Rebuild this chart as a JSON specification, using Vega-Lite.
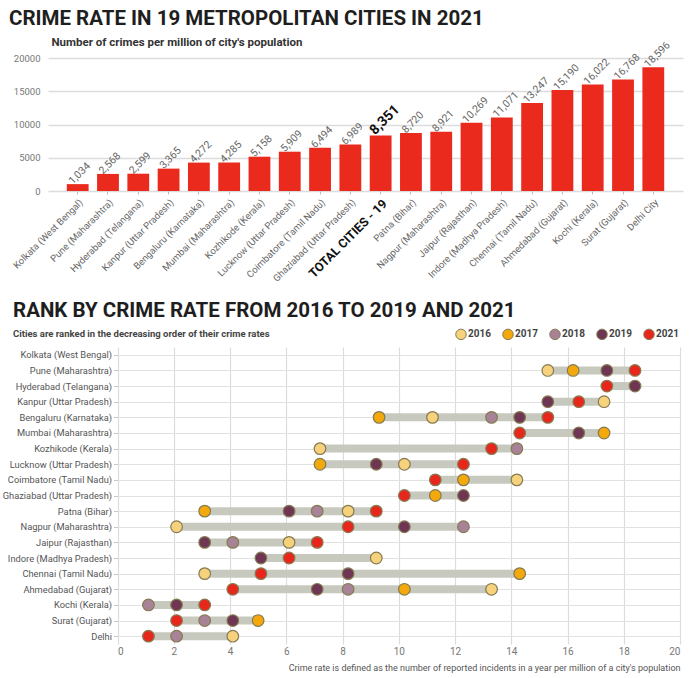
{
  "$schema": "https://vega.github.io/schema/vega-lite/v6.json",
  "background": "white",
  "padding": {"left": 2, "top": 8, "right": 5, "bottom": 5},
  "spacing": 18,
  "config": {
    "view": {"stroke": null},
    "font": "Roboto",
    "title": {"font": "Roboto", "fontWeight": "bold", "color": "#1e1e1e"}
  },
  "vconcat": [
    {
      "width": 635,
      "height": 133,
      "title": {"text": "CRIME RATE IN 19 METROPOLITAN CITIES IN 2021", "anchor": "start", "frame": "group", "dx": -39, "fontSize": 20.5, "offset": 7},
      "data": {"values": [
        {"city": "Kolkata (West Bengal)", "value": 1034},
        {"city": "Pune (Maharashtra)", "value": 2568},
        {"city": "Hyderabad (Telangana)", "value": 2599},
        {"city": "Kanpur (Uttar Pradesh)", "value": 3365},
        {"city": "Bengaluru (Karnataka)", "value": 4272},
        {"city": "Mumbai (Maharashtra)", "value": 4285},
        {"city": "Kozhikode (Kerala)", "value": 5158},
        {"city": "Lucknow (Uttar Pradesh)", "value": 5909},
        {"city": "Coimbatore (Tamil Nadu)", "value": 6494},
        {"city": "Ghaziabad (Uttar Pradesh)", "value": 6989},
        {"city": "TOTAL CITIES - 19", "value": 8351},
        {"city": "Patna (Bihar)", "value": 8720},
        {"city": "Nagpur (Maharashtra)", "value": 8921},
        {"city": "Jaipur (Rajasthan)", "value": 10269},
        {"city": "Indore (Madhya Pradesh)", "value": 11071},
        {"city": "Chennai (Tamil Nadu)", "value": 13247},
        {"city": "Ahmedabad (Gujarat)", "value": 15190},
        {"city": "Kochi (Kerala)", "value": 16022},
        {"city": "Surat (Gujarat)", "value": 16768},
        {"city": "Delhi City", "value": 18596}
      ]},
      "encoding": {
        "x": {
          "field": "city", "type": "nominal", "sort": null,
          "scale": {"paddingInner": 0.28, "paddingOuter": 0.62},
          "axis": {
            "title": null, "labelAngle": -45,
            "labelColor": {"condition": {"test": "datum.value === 'TOTAL CITIES - 19'", "value": "#111"}, "value": "#666"},
            "labelFontWeight": {"condition": {"test": "datum.value === 'TOTAL CITIES - 19'", "value": "bold"}, "value": "normal"},
            "labelFontSize": {"condition": {"test": "datum.value === 'TOTAL CITIES - 19'", "value": 12.5}, "value": 9.5},
            "domain": false, "tickSize": 3, "tickColor": "#bbb", "labelPadding": 3, "labelLimit": 0
          }
        },
        "y": {
          "field": "value", "type": "quantitative", "scale": {"domain": [0, 20000]},
          "axis": {
            "title": "Number of crimes per million of city's population", "titleAngle": 0, "titleAlign": "left", "titleBaseline": "alphabetic",
            "titleX": 3, "titleY": -13, "titleFontSize": 11.5, "titleFontWeight": "bold", "titleColor": "#333",
            "values": [0, 5000, 10000, 15000, 20000], "format": "d", "labelColor": "#777", "labelFontSize": 9.5,
            "domain": false, "ticks": false, "gridColor": "#dcdcdc", "gridWidth": 1.5, "labelPadding": 8
          }
        }
      },
      "layer": [
        {"mark": {"type": "bar", "color": "#e92a1d"}},
        {
          "transform": [{"filter": "datum.city !== 'TOTAL CITIES - 19'"}],
          "mark": {"type": "text", "angle": 315, "align": "left", "baseline": "middle", "dx": -4, "dy": -6, "fontSize": 10.5, "color": "#666"},
          "encoding": {"text": {"field": "value", "type": "quantitative", "format": ","}}
        },
        {
          "transform": [{"filter": "datum.city === 'TOTAL CITIES - 19'"}],
          "mark": {"type": "text", "angle": 315, "align": "left", "baseline": "middle", "dx": -4, "dy": -8, "fontSize": 14, "fontWeight": "bold", "color": "#111"},
          "encoding": {"text": {"field": "value", "type": "quantitative", "format": ","}}
        }
      ]
    },
    {
      "width": 632,
      "height": 297,
      "title": {
        "text": "RANK BY CRIME RATE FROM 2016 TO 2019 AND 2021",
        "subtitle": "Cities are ranked in the decreasing order of their crime rates",
        "anchor": "start", "frame": "group", "dx": -35, "fontSize": 20.5,
        "subtitleFontSize": 9.5, "subtitleFontWeight": "bold", "subtitleColor": "#444", "subtitlePadding": 7, "offset": 9,
        "subtitleFont": "Roboto"
      },
      "data": {"values": [
        {"city": "Pune (Maharashtra)", "year": "2016", "rank": 15.3},
        {"city": "Pune (Maharashtra)", "year": "2017", "rank": 16.2},
        {"city": "Pune (Maharashtra)", "year": "2019", "rank": 17.4},
        {"city": "Pune (Maharashtra)", "year": "2021", "rank": 18.4},
        {"city": "Hyderabad (Telangana)", "year": "2021", "rank": 17.4},
        {"city": "Hyderabad (Telangana)", "year": "2019", "rank": 18.4},
        {"city": "Kanpur (Uttar Pradesh)", "year": "2019", "rank": 15.3},
        {"city": "Kanpur (Uttar Pradesh)", "year": "2021", "rank": 16.4},
        {"city": "Kanpur (Uttar Pradesh)", "year": "2016", "rank": 17.3},
        {"city": "Bengaluru (Karnataka)", "year": "2017", "rank": 9.3},
        {"city": "Bengaluru (Karnataka)", "year": "2016", "rank": 11.2},
        {"city": "Bengaluru (Karnataka)", "year": "2018", "rank": 13.3},
        {"city": "Bengaluru (Karnataka)", "year": "2019", "rank": 14.3},
        {"city": "Bengaluru (Karnataka)", "year": "2021", "rank": 15.3},
        {"city": "Mumbai (Maharashtra)", "year": "2021", "rank": 14.3},
        {"city": "Mumbai (Maharashtra)", "year": "2019", "rank": 16.4},
        {"city": "Mumbai (Maharashtra)", "year": "2017", "rank": 17.3},
        {"city": "Kozhikode (Kerala)", "year": "2016", "rank": 7.2},
        {"city": "Kozhikode (Kerala)", "year": "2021", "rank": 13.3},
        {"city": "Kozhikode (Kerala)", "year": "2018", "rank": 14.2},
        {"city": "Lucknow (Uttar Pradesh)", "year": "2017", "rank": 7.2},
        {"city": "Lucknow (Uttar Pradesh)", "year": "2019", "rank": 9.2},
        {"city": "Lucknow (Uttar Pradesh)", "year": "2016", "rank": 10.2},
        {"city": "Lucknow (Uttar Pradesh)", "year": "2021", "rank": 12.3},
        {"city": "Coimbatore (Tamil Nadu)", "year": "2021", "rank": 11.3},
        {"city": "Coimbatore (Tamil Nadu)", "year": "2017", "rank": 12.3},
        {"city": "Coimbatore (Tamil Nadu)", "year": "2016", "rank": 14.2},
        {"city": "Ghaziabad (Uttar Pradesh)", "year": "2021", "rank": 10.2},
        {"city": "Ghaziabad (Uttar Pradesh)", "year": "2017", "rank": 11.3},
        {"city": "Ghaziabad (Uttar Pradesh)", "year": "2019", "rank": 12.3},
        {"city": "Patna (Bihar)", "year": "2017", "rank": 3.1},
        {"city": "Patna (Bihar)", "year": "2019", "rank": 6.1},
        {"city": "Patna (Bihar)", "year": "2018", "rank": 7.1},
        {"city": "Patna (Bihar)", "year": "2016", "rank": 8.2},
        {"city": "Patna (Bihar)", "year": "2021", "rank": 9.2},
        {"city": "Nagpur (Maharashtra)", "year": "2016", "rank": 2.1},
        {"city": "Nagpur (Maharashtra)", "year": "2021", "rank": 8.2},
        {"city": "Nagpur (Maharashtra)", "year": "2019", "rank": 10.2},
        {"city": "Nagpur (Maharashtra)", "year": "2018", "rank": 12.3},
        {"city": "Jaipur (Rajasthan)", "year": "2019", "rank": 3.1},
        {"city": "Jaipur (Rajasthan)", "year": "2018", "rank": 4.1},
        {"city": "Jaipur (Rajasthan)", "year": "2016", "rank": 6.1},
        {"city": "Jaipur (Rajasthan)", "year": "2021", "rank": 7.1},
        {"city": "Indore (Madhya Pradesh)", "year": "2019", "rank": 5.1},
        {"city": "Indore (Madhya Pradesh)", "year": "2021", "rank": 6.1},
        {"city": "Indore (Madhya Pradesh)", "year": "2016", "rank": 9.2},
        {"city": "Chennai (Tamil Nadu)", "year": "2016", "rank": 3.1},
        {"city": "Chennai (Tamil Nadu)", "year": "2021", "rank": 5.1},
        {"city": "Chennai (Tamil Nadu)", "year": "2019", "rank": 8.2},
        {"city": "Chennai (Tamil Nadu)", "year": "2017", "rank": 14.3},
        {"city": "Ahmedabad (Gujarat)", "year": "2021", "rank": 4.1},
        {"city": "Ahmedabad (Gujarat)", "year": "2019", "rank": 7.1},
        {"city": "Ahmedabad (Gujarat)", "year": "2018", "rank": 8.2},
        {"city": "Ahmedabad (Gujarat)", "year": "2017", "rank": 10.2},
        {"city": "Ahmedabad (Gujarat)", "year": "2016", "rank": 13.3},
        {"city": "Kochi (Kerala)", "year": "2018", "rank": 1.1},
        {"city": "Kochi (Kerala)", "year": "2019", "rank": 2.1},
        {"city": "Kochi (Kerala)", "year": "2021", "rank": 3.1},
        {"city": "Surat (Gujarat)", "year": "2021", "rank": 2.1},
        {"city": "Surat (Gujarat)", "year": "2018", "rank": 3.1},
        {"city": "Surat (Gujarat)", "year": "2019", "rank": 4.1},
        {"city": "Surat (Gujarat)", "year": "2017", "rank": 5.0},
        {"city": "Delhi", "year": "2021", "rank": 1.1},
        {"city": "Delhi", "year": "2018", "rank": 2.1},
        {"city": "Delhi", "year": "2016", "rank": 4.1}
      ]},
      "encoding": {
        "y": {
          "field": "city", "type": "nominal",
          "scale": {"type": "point", "padding": 0.5, "domain": ["Kolkata (West Bengal)", "Pune (Maharashtra)", "Hyderabad (Telangana)", "Kanpur (Uttar Pradesh)", "Bengaluru (Karnataka)", "Mumbai (Maharashtra)", "Kozhikode (Kerala)", "Lucknow (Uttar Pradesh)", "Coimbatore (Tamil Nadu)", "Ghaziabad (Uttar Pradesh)", "Patna (Bihar)", "Nagpur (Maharashtra)", "Jaipur (Rajasthan)", "Indore (Madhya Pradesh)", "Chennai (Tamil Nadu)", "Ahmedabad (Gujarat)", "Kochi (Kerala)", "Surat (Gujarat)", "Delhi"]},
          "axis": {"title": null, "offset": -69.5, "labelFontSize": 9.3, "labelColor": "#555", "grid": true, "gridColor": "#e2e2e2", "gridWidth": 1.2, "tickSize": 4, "tickColor": "#c8c8c8", "domain": false, "labelPadding": 2}
        }
      },
      "layer": [
        {
          "mark": {"type": "rule", "strokeWidth": 8, "color": "#c7c9be"},
          "encoding": {
            "x": {"aggregate": "min", "field": "rank", "type": "quantitative", "title": "Crime rate is defined as the number of reported incidents in a year per million of a city's population"},
            "x2": {"aggregate": "max", "field": "rank"}
          }
        },
        {
          "mark": {"type": "circle", "size": 135, "opacity": 1, "stroke": "#857a52", "strokeWidth": 1.2},
          "encoding": {
            "x": {
              "field": "rank", "type": "quantitative", "scale": {"domain": [0, 20], "range": [69.5, 632]},
              "title": "Crime rate is defined as the number of reported incidents in a year per million of a city's population",
              "axis": {"values": [0, 2, 4, 6, 8, 10, 12, 14, 16, 18, 20], "titleAnchor": "end", "titleFontSize": 9, "titleFontWeight": "normal", "titleColor": "#555", "labelColor": "#777", "labelFontSize": 10, "domain": false, "ticks": false, "gridColor": "#dcdcdc", "gridWidth": 1.2, "labelPadding": 2, "titlePadding": 7}
            },
            "color": {
              "field": "year", "type": "nominal",
              "scale": {"domain": ["2016", "2017", "2018", "2019", "2021"], "range": ["#f6d27c", "#f3a80c", "#a88397", "#6e3652", "#e8271c"]},
              "legend": {"title": null, "orient": "none", "legendX": 407, "legendY": 270, "direction": "horizontal", "symbolType": "circle", "symbolSize": 110, "symbolStrokeColor": "#857a52", "symbolStrokeWidth": 1, "labelFontSize": 10, "labelFontWeight": "bold", "labelColor": "#444", "labelOffset": 1, "columnPadding": 9}
            }
          }
        }
      ]
    }
  ]
}
